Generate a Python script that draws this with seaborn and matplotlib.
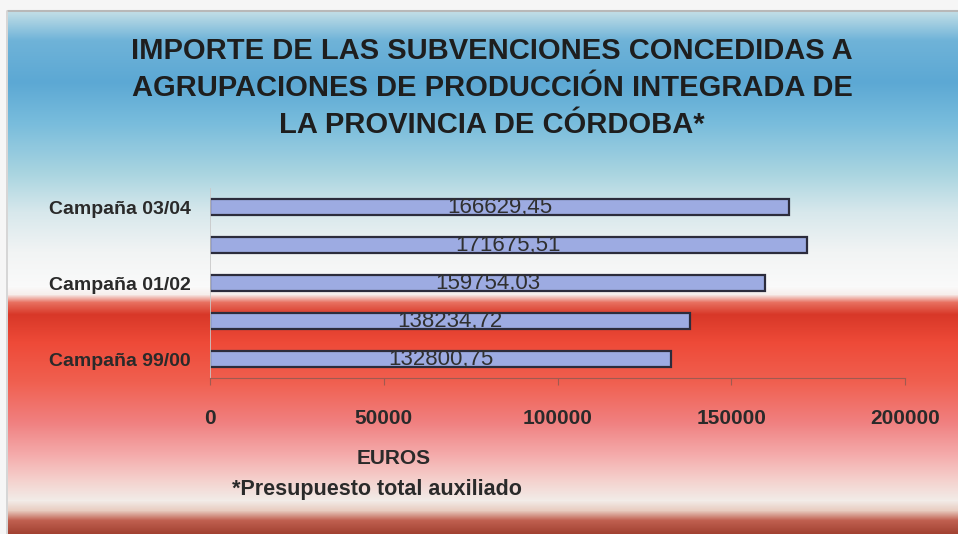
import numpy as np
import pandas as pd
import seaborn as sns
import matplotlib.pyplot as plt
from matplotlib.colors import to_rgb

# data
campaigns = ['Campaña 03/04', 'Campaña 02/03', 'Campaña 01/02', 'Campaña 00/01', 'Campaña 99/00']
importes = [166629.45, 171675.51, 159754.03, 138234.72, 132800.75]
tick_labels = ['Campaña 03/04', '', 'Campaña 01/02', '', 'Campaña 99/00']
x_ticks = [0, 50000, 100000, 150000, 200000]

TITLE = ('IMPORTE DE LAS SUBVENCIONES CONCEDIDAS A\n'
         'AGRUPACIONES DE PRODUCCIÓN INTEGRADA DE\n'
         'LA PROVINCIA DE CÓRDOBA*')

FONT = ['Liberation Sans', 'DejaVu Sans']
W, H = 958, 534

sns.set_style('white')
plt.rcParams['font.family'] = FONT

df = pd.DataFrame({'campana': campaigns, 'importe': importes})

fig = plt.figure(figsize=(W / 100, H / 100), dpi=100)
fig.patch.set_facecolor('#f6f6f6')

# background gradient panel (blue -> white -> red)
stops = [(0, '#c0dde6'), (28, '#6fb3d8'), (70, '#5ca8d4'), (110, '#78bcdc'),
         (160, '#a8d4e0'), (200, '#d8e8ec'), (240, '#f2f4f4'), (274, '#fafafa'),
         (282, '#f6eeec'), (290, '#e87060'), (302, '#d83828'), (330, '#ee4a38'),
         (370, '#f06050'), (410, '#f08080'), (440, '#f4a8a8'), (470, '#f4d4d0'),
         (488, '#f2ece8'), (498, '#e8ccc0'), (508, '#c06050'), (522, '#a04030')]
ys = np.arange(522)
sy = [s[0] for s in stops]
cols = np.array([to_rgb(s[1]) for s in stops])
grad = np.stack([np.interp(ys, sy, cols[:, i]) for i in range(3)], axis=-1)[:, None, :]
bg = fig.add_axes([8 / W, 0, 1 - 8 / W, 1 - 12 / H], zorder=-2)
bg.imshow(grad, aspect='auto', extent=[0, 1, 1, 0])
bg.axis('off')
fig.add_artist(plt.Line2D([8 / W, 1], [1 - 11 / H, 1 - 11 / H], color='#b8b8b8', lw=1.5))
fig.add_artist(plt.Line2D([7 / W, 7 / W], [0, 1 - 11 / H], color='#d0d0d0', lw=1.2))

ax = fig.add_axes([210 / W, 1 - 378 / H, 695 / W, 190 / H])
ax.set_facecolor('none')
sns.barplot(data=df, x='importe', y='campana', orient='h', order=campaigns,
            color='#9dabe2', edgecolor='#2c2c3c', linewidth=1.6, width=0.42,
            saturation=1, ax=ax)

for i, v in enumerate(importes):
    ax.text(v / 2, i, f'{v:.2f}'.replace('.', ','), ha='center', va='center',
            fontsize=16, color='#303030', family=FONT)

ax.set_xlim(0, 200000)
ax.set_ylim(4.5, -0.5)
ax.set_xticks(x_ticks)
ax.set_xticklabels([str(t) for t in x_ticks], fontsize=15, fontweight='bold', color='#2a2a2a')
ax.set_yticks(range(len(campaigns)))
ax.set_yticklabels(tick_labels, fontsize=14, fontweight='bold', color='#2a2a2a')
ax.tick_params(axis='x', length=5, width=0.8, color='#a05a50', pad=17, bottom=True)
ax.tick_params(axis='y', length=0, pad=14)
ax.set_xlabel('')
ax.set_ylabel('')
for s in ['top', 'right']:
    ax.spines[s].set_visible(False)
ax.spines['bottom'].set_color('#a05a50')
ax.spines['bottom'].set_linewidth(0.8)
ax.spines['left'].set_color('#c8c8c8')
ax.spines['left'].set_linewidth(0.6)

fig.text(492 / W, 1 - 88 / H, TITLE, ha='center', va='center', fontsize=21,
         fontweight='bold', color='#1e1e1e', linespacing=1.42)
fig.text(394 / W, 1 - 458 / H, 'EUROS', ha='center', va='center', fontsize=15,
         fontweight='bold', color='#2a2a2a')
fig.text(232 / W, 1 - 490 / H, '*Presupuesto total auxiliado', ha='left', va='center',
         fontsize=15.5, fontweight='bold', color='#2a2a2a')

fig.savefig('out.png', dpi=100)
